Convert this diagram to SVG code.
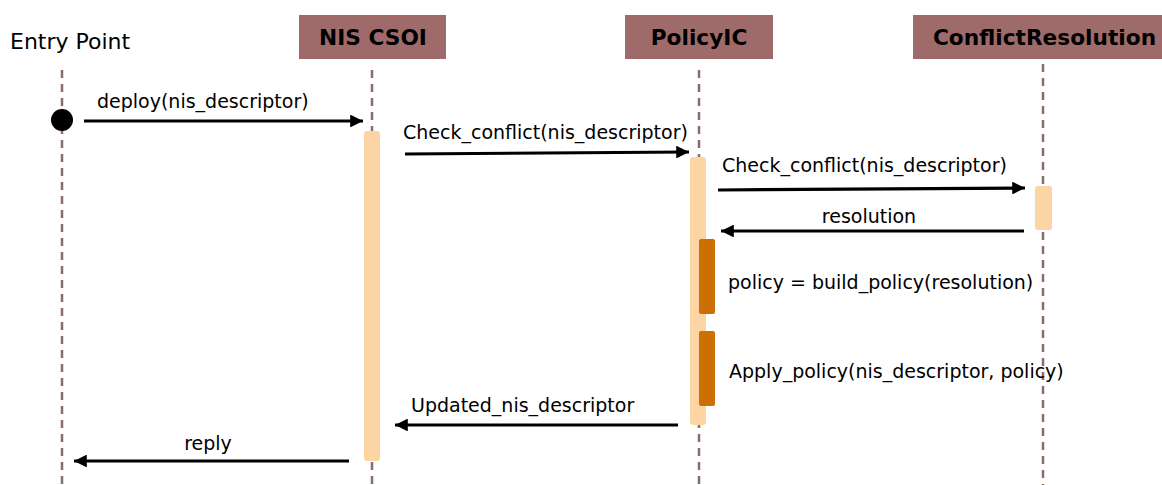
<svg xmlns="http://www.w3.org/2000/svg" width="1162" height="485" viewBox="0 0 1162 485">
<defs>
<marker id="ah" viewBox="0 0 10 10" refX="10" refY="5" markerWidth="4.3" markerHeight="4" orient="auto" markerUnits="strokeWidth">
<path d="M0,0 L10,5 L0,10 z" fill="#000"/>
</marker>
</defs>
<style>
text{font-family:"DejaVu Sans","Liberation Sans",sans-serif;fill:#000}
.hd{fill:#9e6b6a}
.ht{font-size:21.7px;font-weight:bold;text-anchor:middle}
.lbl{font-size:19px}
.life{stroke:#8a6e66;stroke-width:2.5;stroke-dasharray:8,6;fill:none}
.act{fill:#fdd5a4}
.act2{fill:#cc6f05}
.msg{stroke:#000;stroke-width:3.2;fill:none;marker-end:url(#ah)}
</style>
<rect width="1162" height="485" fill="#fff"/>
<g id="lifelines">
<line class="life" x1="62" y1="70" x2="62" y2="485"/>
<line class="life" x1="372" y1="70" x2="372" y2="485"/>
<line class="life" x1="699" y1="70" x2="699" y2="485"/>
<line class="life" x1="1043" y1="64" x2="1043" y2="485"/>
</g>
<g id="entry">
<text x="10" y="49" style="font-size:22px">Entry Point</text>
<circle cx="62" cy="120" r="11" fill="#000"/>
</g>
<g id="nis">
<rect class="hd" x="299" y="15" width="147" height="44"/>
<text class="ht" x="373" y="45">NIS CSOI</text>
<rect class="act" x="364" y="131" width="16" height="330" rx="3"/>
</g>
<g id="policyic">
<rect class="hd" x="625" y="15" width="148" height="44"/>
<text class="ht" x="699" y="45">PolicyIC</text>
<rect class="act" x="690" y="157" width="16" height="268" rx="3"/>
<rect class="act2" x="699" y="239" width="16" height="75" rx="2"/>
<rect class="act2" x="699" y="331" width="16" height="75" rx="2"/>
</g>
<g id="conflict">
<rect class="hd" x="913" y="15" width="249" height="44"/>
<text class="ht" x="1044.5" y="45">ConflictResolution</text>
<rect class="act" x="1035" y="186" width="17" height="44" rx="3"/>
</g>
<g id="connectors">
<line class="msg" x1="84" y1="121" x2="363" y2="121"/>
<text class="lbl" x="97" y="108">deploy(nis_descriptor)</text>
<line class="msg" x1="405" y1="154" x2="689" y2="152"/>
<text class="lbl" x="403" y="139">Check_conflict(nis_descriptor)</text>
<line class="msg" x1="718" y1="190" x2="1025" y2="188"/>
<text class="lbl" x="722" y="172">Check_conflict(nis_descriptor)</text>
<line class="msg" x1="1024" y1="231" x2="721" y2="231"/>
<text class="lbl" x="869" y="223" text-anchor="middle">resolution</text>
<text class="lbl" x="728" y="289">policy = build_policy(resolution)</text>
<text class="lbl" x="729" y="378">Apply_policy(nis_descriptor, policy)</text>
<line class="msg" x1="678" y1="425" x2="395" y2="425"/>
<text class="lbl" x="411" y="412">Updated_nis_descriptor</text>
<line class="msg" x1="349" y1="461" x2="74" y2="461"/>
<text class="lbl" x="208" y="450" text-anchor="middle">reply</text>
</g>
</svg>
